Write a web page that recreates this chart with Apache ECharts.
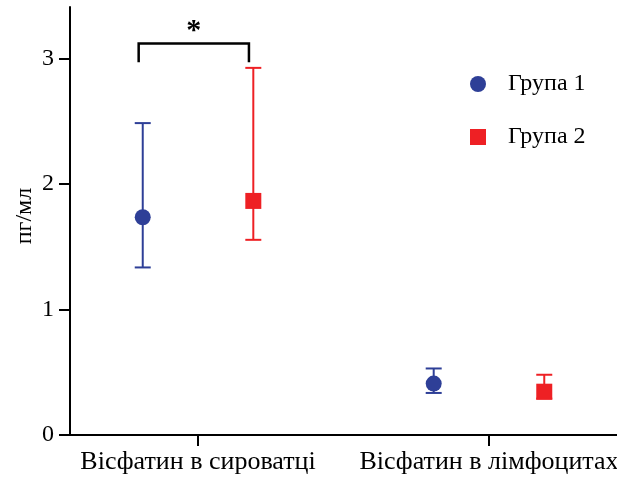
<!DOCTYPE html>
<html><head><meta charset="utf-8">
<script src="https://cdn.jsdelivr.net/npm/echarts@6/dist/echarts.min.js"></script>
<style>html,body{margin:0;padding:0;background:#fff}#c{width:617px;height:479px}</style>
</head><body><div id="c"></div>
<script>
const categories = ['Вісфатин в сироватці', 'Вісфатин в лімфоцитах'];
const categoryPos = [1, 2];
const groupNames = ['Група 1', 'Група 2'];
const group1Mean = [1.735, 0.41];
const group1Low = [1.335, 0.335];
const group1High = [2.485, 0.53];
const group2Mean = [1.865, 0.345];
const group2Low = [1.555, 0.29];
const group2High = [2.925, 0.48];
const yTicks = [0, 1, 2, 3];
const bracket = { x1: 0.796, x2: 1.175, top: 3.12, bottom: 2.97, label: '*' };

const FONT = '"Liberation Serif", "Times New Roman", serif';
const BLUE = '#2e3f97', RED = '#ee2024';
const OFFSET = 0.19;

function pts(mean, dx) { return mean.map((m, i) => [categoryPos[i] + dx, m]); }
function errs(low, high, dx) { return low.map((l, i) => [categoryPos[i] + dx, l, high[i]]); }

function errRender(color) {
  return function (params, api) {
    const x = api.value(0);
    const lo = api.coord([x, api.value(1)]);
    const hi = api.coord([x, api.value(2)]);
    const hw = 8;
    const st = { stroke: color, lineWidth: 2 };
    return { type: 'group', children: [
      { type: 'line', shape: { x1: lo[0], y1: lo[1], x2: hi[0], y2: hi[1] }, style: st },
      { type: 'line', shape: { x1: lo[0] - hw, y1: lo[1], x2: lo[0] + hw, y2: lo[1] }, style: st },
      { type: 'line', shape: { x1: hi[0] - hw, y1: hi[1], x2: hi[0] + hw, y2: hi[1] }, style: st }
    ]};
  };
}

const chart = echarts.init(document.getElementById('c'));
chart.setOption({
  animation: false,
  textStyle: { fontFamily: FONT },
  grid: { left: 70, right: 0, top: 7, bottom: 44, containLabel: false, outerBoundsMode: 'none' },
  legend: {
    orient: 'vertical', left: 465, top: 67, itemGap: 29,
    itemWidth: 16, itemHeight: 16,
    textStyle: { fontFamily: FONT, fontSize: 24, color: '#000', padding: [0, 0, 0, 17] },
    data: [{ name: groupNames[0], icon: 'circle' }, { name: groupNames[1], icon: 'rect' }]
  },
  xAxis: {
    type: 'value', min: 0.56, max: 2.44,
    splitLine: { show: false },
    axisLine: { lineStyle: { color: '#000', width: 2 } },
    axisTick: { show: true, length: 11, lineStyle: { color: '#000', width: 2 }, customValues: categoryPos },
    axisLabel: { customValues: categoryPos, formatter: v => categories[categoryPos.indexOf(v)] || '',
      fontSize: 26, color: '#000', fontFamily: FONT, margin: 14 }
  },
  yAxis: {
    type: 'value', min: 0, max: 3.41, interval: 1,
    name: 'пг/мл', nameLocation: 'middle', nameGap: 33, nameRotate: 90, nameMoveOverlap: false,
    nameTextStyle: { fontSize: 24, color: '#000', fontFamily: FONT, padding: [0, 0, 0, 10] },
    splitLine: { show: false },
    axisLine: { show: true, lineStyle: { color: '#000', width: 2 } },
    axisTick: { show: true, length: 11, lineStyle: { color: '#000', width: 2 }, customValues: yTicks },
    axisLabel: { customValues: yTicks, fontSize: 24, color: '#000', fontFamily: FONT, margin: 16 }
  },
  series: [
    { type: 'custom', name: 'err1', renderItem: errRender(BLUE), data: errs(group1Low, group1High, -OFFSET), z: 2 },
    { type: 'custom', name: 'err2', renderItem: errRender(RED), data: errs(group2Low, group2High, OFFSET), z: 2 },
    { type: 'scatter', name: groupNames[0], symbol: 'circle', symbolSize: 16, itemStyle: { color: BLUE, opacity: 1 }, data: pts(group1Mean, -OFFSET), z: 3 },
    { type: 'scatter', name: groupNames[1], symbol: 'rect', symbolSize: 16, itemStyle: { color: RED, opacity: 1 }, data: pts(group2Mean, OFFSET), z: 3 },
    { type: 'custom', name: 'bracket', data: [[bracket.x1, bracket.x2, bracket.top, bracket.bottom]],
      renderItem: function (params, api) {
        const a = api.coord([api.value(0), api.value(3)]);
        const b = api.coord([api.value(0), api.value(2)]);
        const c = api.coord([api.value(1), api.value(2)]);
        const d = api.coord([api.value(1), api.value(3)]);
        return { type: 'group', children: [
          { type: 'polyline', shape: { points: [a, b, c, d] }, style: { stroke: '#000', lineWidth: 2.5, fill: null } },
          { type: 'text', x: (b[0] + c[0]) / 2, y: b[1] - 12,
            style: { text: bracket.label, font: 'bold 30px ' + FONT, fill: '#000', align: 'center', verticalAlign: 'middle' } }
        ]};
      } }
  ]
});
</script></body></html>
